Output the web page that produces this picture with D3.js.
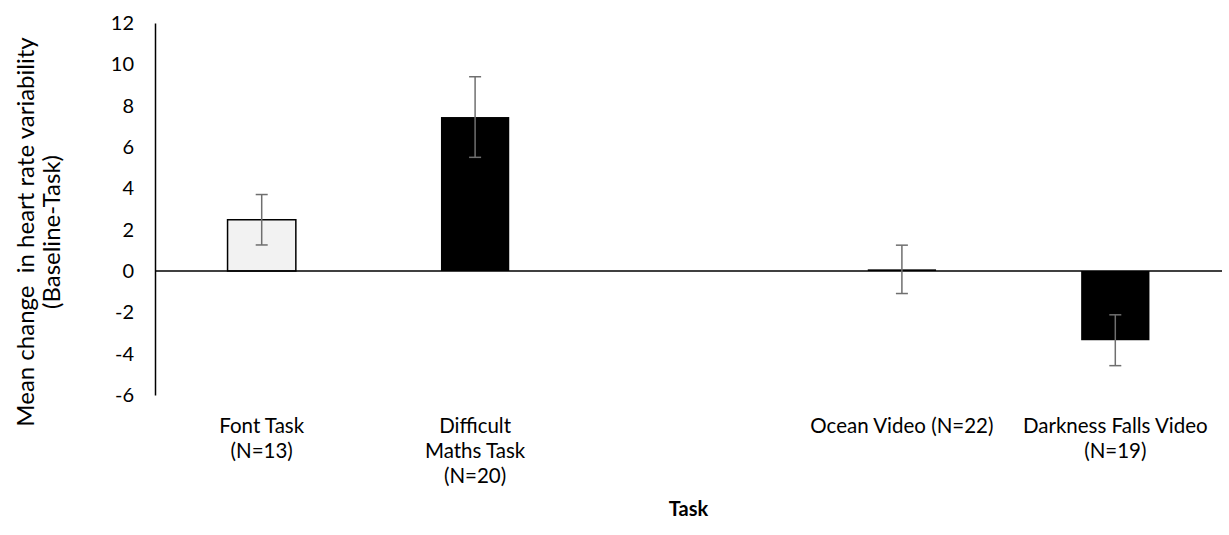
<!DOCTYPE html>
<html>
<head>
<meta charset="utf-8">
<script src="https://cdn.jsdelivr.net/npm/d3@7"></script>
<style>
  html, body { margin: 0; padding: 0; background: #fff; overflow: hidden; }
  svg { display: block; }
</style>
</head>
<body>
<div id="chart"></div>
<script>
// categories (third slot is empty in the original figure)
var tasks = ["Font Task", "Difficult Maths Task", "", "Ocean Video", "Darkness Falls Video"];
var taskLines = [["Font Task", "(N=13)"], ["Difficult", "Maths Task", "(N=20)"], [], ["Ocean Video (N=22)"], ["Darkness Falls Video", "(N=19)"]];
var means = [2.48, 7.45, null, 0.08, -3.35];
var errors = [1.22, 1.95, null, 1.17, 1.23];
var fills = ["#f2f2f2", "#000000", null, "#000000", "#000000"];
var yTicks = [-6, -4, -2, 0, 2, 4, 6, 8, 10, 12];
var yTitle = ["Mean change  in heart rate variability", "(Baseline-Task)"];

var width = 1229, height = 535;
var margin = {top: 23, right: 7, bottom: 140, left: 155};
var innerWidth = width - margin.left - margin.right,
    innerHeight = height - margin.top - margin.bottom;
var font = "Lato, 'Open Sans', sans-serif";

var svg = d3.select("#chart").append("svg")
    .attr("width", width)
    .attr("height", height)
    .attr("font-family", font);

var g = svg.append("g")
    .attr("transform", "translate(" + margin.left + "," + margin.top + ")");

var xScale = d3.scaleBand()
    .domain(tasks)
    .range([0, innerWidth])
    .paddingInner(0.68)
    .paddingOuter(0.34);

var yScale = d3.scaleLinear()
    .domain([-6, 12])
    .range([innerHeight, 0]);

// y axis - labels only, no tick marks, plain hyphen for negatives
var yAxis = g.append("g")
    .call(d3.axisLeft(yScale).tickValues(yTicks).tickSize(0).tickPadding(21)
      .tickFormat(function (d) { return String(d); }));
yAxis.attr("font-family", font).attr("font-size", 20);
yAxis.select(".domain").attr("stroke", "#000").attr("stroke-width", 1.5);
yAxis.selectAll("text").attr("fill", "#000");

// bars
var rows = tasks.map(function (t, i) {
  return {task: t, mean: means[i], err: errors[i], fill: fills[i]};
}).filter(function (d) { return d.mean !== null; });

g.selectAll(".bar")
  .data(rows)
  .enter().append("rect")
    .attr("class", "bar")
    .attr("x", function (d) { return xScale(d.task); })
    .attr("width", xScale.bandwidth())
    .attr("y", function (d) { return yScale(Math.max(0, d.mean)); })
    .attr("height", function (d) { return Math.max(1.5, Math.abs(yScale(d.mean) - yScale(0))); })
    .attr("fill", function (d) { return d.fill; })
    .attr("stroke", "#000")
    .attr("stroke-width", function (d) { return d.fill === "#f2f2f2" ? 1.5 : 0; });

// zero line
g.append("line")
    .attr("x1", 0).attr("x2", innerWidth)
    .attr("y1", yScale(0)).attr("y2", yScale(0))
    .attr("stroke", "#000").attr("stroke-width", 1.5);

// error bars
var eb = g.selectAll(".err")
  .data(rows)
  .enter().append("g")
    .attr("class", "err")
    .attr("stroke", "#6f6f6f")
    .attr("stroke-width", 1.5);

eb.append("line")
    .attr("x1", function (d) { return xScale(d.task) + xScale.bandwidth() / 2; })
    .attr("x2", function (d) { return xScale(d.task) + xScale.bandwidth() / 2; })
    .attr("y1", function (d) { return yScale(d.mean + d.err); })
    .attr("y2", function (d) { return yScale(d.mean - d.err); });

[1, -1].forEach(function (s) {
  eb.append("line")
    .attr("x1", function (d) { return xScale(d.task) + xScale.bandwidth() / 2 - 6; })
    .attr("x2", function (d) { return xScale(d.task) + xScale.bandwidth() / 2 + 6; })
    .attr("y1", function (d) { return yScale(d.mean + s * d.err); })
    .attr("y2", function (d) { return yScale(d.mean + s * d.err); });
});

// category labels, one text per line
tasks.forEach(function (t, i) {
  taskLines[i].forEach(function (line, j) {
    g.append("text")
      .attr("x", xScale(t) + xScale.bandwidth() / 2)
      .attr("y", innerHeight + 38 + j * 25)
      .attr("text-anchor", "middle")
      .attr("font-family", font)
      .attr("font-size", 20.5)
      .attr("fill", "#000")
      .text(line);
  });
});

// axis titles
svg.append("text")
    .attr("x", margin.left + innerWidth / 2)
    .attr("y", 516)
    .attr("text-anchor", "middle")
    .attr("font-family", font)
    .attr("font-size", 20)
    .attr("font-weight", "bold")
    .attr("fill", "#000")
    .text("Task");

yTitle.forEach(function (line, j) {
  svg.append("text")
    .attr("transform", "translate(" + (34 + j * 26) + ",232) rotate(-90)")
    .attr("text-anchor", "middle")
    .attr("font-family", font)
    .attr("font-size", 24)
    .attr("fill", "#000")
    .attr("xml:space", "preserve")
    .text(line);
});
</script>
</body>
</html>
